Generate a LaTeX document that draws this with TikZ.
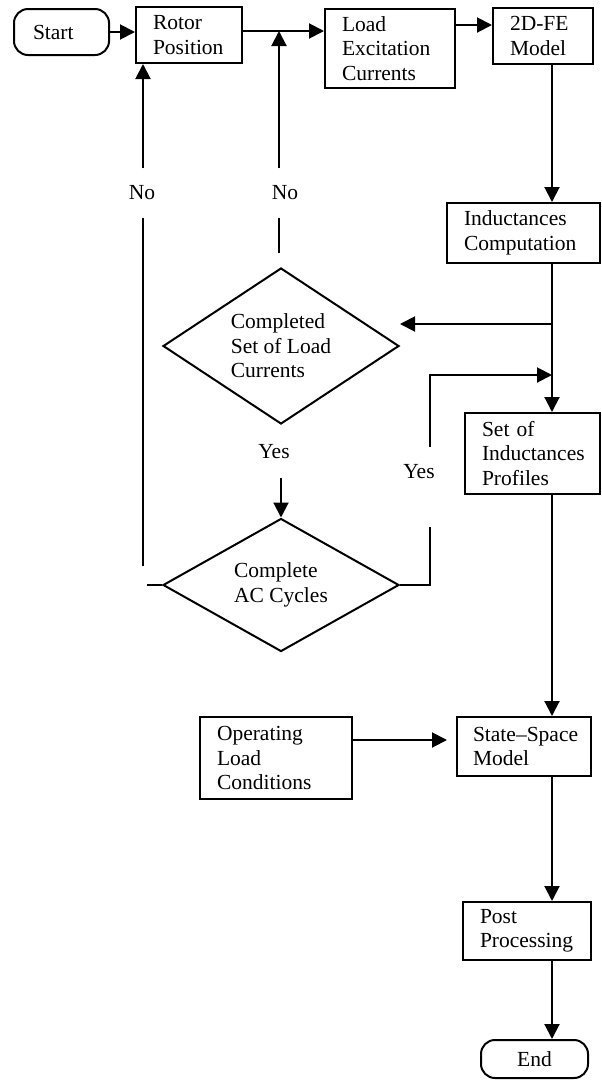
\documentclass[tikz,border=0pt]{standalone}
\usepackage{fontspec}
\setmainfont{Liberation Serif}
\usetikzlibrary{shapes.geometric,arrows.meta}
\hyphenpenalty=10000
\exhyphenpenalty=10000
\begin{document}
\begin{tikzpicture}[x=1pt,y=1pt,
  every node/.style={font=\fontsize{21.5}{24.5}\selectfont},
  ln/.style={line width=2pt},
  arr/.style={ln,-{Triangle[length=15pt,width=15pt]}},
  bx/.style={draw,ln,rectangle,inner xsep=17pt,inner ysep=0pt,align=left},
  term/.style={draw,ln,rectangle,rounded corners=14pt,inner xsep=19pt,inner ysep=0pt,align=left},
  dec/.style={draw,ln,diamond,aspect=1.5,inner sep=0pt,align=left},
  lbl/.style={inner sep=0pt}]
\useasboundingbox (0,0) rectangle (602,-1080);
% nodes
\node[term,text width=57pt,minimum height=46pt] (start) at (61.5,-32) {Start};
\node[bx,text width=72pt,minimum height=56pt] (rotor) at (189,-35) {Rotor\\Position};
\node[bx,text width=96pt,minimum height=79pt] (load) at (390,-48.5) {Load\\Excitation\\Currents};
\node[bx,text width=66pt,minimum height=56pt] (fe) at (543,-36) {2D-FE\\Model};
\node[bx,text width=119pt,minimum height=60pt] (ind) at (523.5,-233) {Inductances\\Computation};
\node[dec,minimum width=236pt,minimum height=156pt] (d1) at (281,-346) {Completed\\Set of Load\\Currents};
\node[bx,text width=101pt,minimum height=81pt] (set) at (532.5,-453.5) {Set of\\Inductances\\Profiles};
\node[dec,minimum width=236pt,minimum height=133pt] (d2) at (281,-585) {Complete\\AC Cycles};
\node[bx,text width=118pt,minimum height=82pt] (op) at (276,-758) {Operating\\Load\\Conditions};
\node[bx,inner xsep=16pt,text width=102pt,minimum height=59pt] (ss) at (524,-746.5) {State–Space\\Model};
\node[bx,text width=94pt,minimum height=58pt] (post) at (527,-931) {Post\\Processing};
\node[term,inner xsep=0pt,text width=107pt,align=center,minimum height=38pt] (end) at (534.5,-1059) {End};
% labels
\node[lbl,minimum height=49pt] (no1) at (142,-193) {No};
\node[lbl,minimum height=49pt] (no2) at (285,-193) {No};
\node[lbl,minimum height=52pt] (yes1) at (274,-452) {Yes};
\node[lbl] (yes2) at (419,-472) {Yes};
% helper coordinates
\coordinate (sp) at (552,0);
\coordinate (r1) at (0,-31);
\coordinate (r2) at (0,-25);
\coordinate (c1) at (143,0);
\coordinate (c2) at (279,0);
\coordinate (c3) at (430,0);
\coordinate (b1) at (400,-324);
\coordinate (m1) at (0,-375);
\coordinate (y2top) at (0,-447);
\coordinate (opin) at (447,-740);
% connectors
\draw[arr] (start.east) -- (start.east -| rotor.west);
\draw[arr] (rotor.east |- r1) -- (load.west |- r1);
\draw[arr] (load.east |- r2) -- (fe.west |- r2);
\draw[arr] (fe.south -| sp) -- (ind.north -| sp);
\draw[arr] (ind.south -| sp) -- (set.north -| sp);
\draw[arr] (sp |- b1) -- (b1);
\draw[ln] (no2.south -| c2) -- ++(0,-35);
\draw[arr] (no2.north -| c2) -- (c2 |- r1);
\draw[ln] (no1.south -| c1) -- ++(0,-348);
\draw[arr] (no1.north -| c1) -- (c1 |- rotor.south);
\draw[ln] (d2.west) -- ++(-15,0);
\draw[arr] (yes1.south -| d2.north) -- (d2.north);
\draw[ln] (d2.east) -- (c3 |- d2.east) -- ++(0,58);
\draw[arr] (c3 |- y2top) -- (c3 |- m1) -- (sp |- m1);
\draw[arr] (set.south -| sp) -- (ss.north -| sp);
\draw[arr] (op.east |- opin) -- (opin);
\draw[arr] (ss.south -| sp) -- (post.north -| sp);
\draw[arr] (post.south -| sp) -- (end.north -| sp);
\end{tikzpicture}
\end{document}
